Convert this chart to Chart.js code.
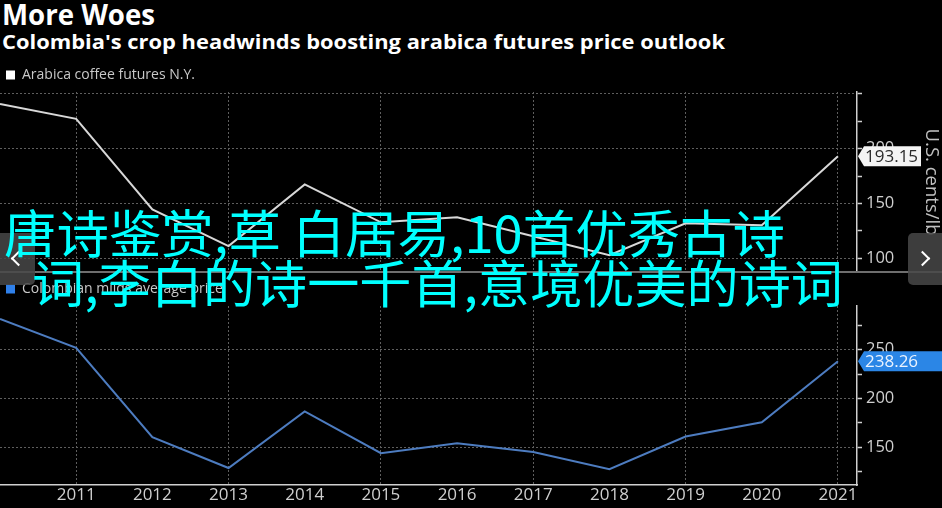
<!DOCTYPE html>
<html><head><meta charset="utf-8">
<script src="https://cdn.jsdelivr.net/npm/chart.js@4"></script>
<style>
html,body{margin:0;padding:0;background:#000;width:942px;height:508px;overflow:hidden;}
#stage{position:relative;width:942px;height:508px;background:#000;}
.txt{position:absolute;white-space:nowrap;transform-origin:0 0;color:#fff;}
#title{left:2px;top:0px;font:bold 28px "Open Sans",sans-serif;line-height:28px;}
#subtitle{left:2px;top:32px;font:bold 20px "Open Sans",sans-serif;line-height:20px;}
#topWrap{position:absolute;left:0;top:62px;width:942px;height:210px;}
#botWrap{position:absolute;left:0;top:276px;width:942px;height:232px;}
#sep{position:absolute;left:0;top:271px;width:942px;height:2px;background:#6e6e6e;}
.nav{position:absolute;top:233px;width:35px;height:52px;background:rgba(72,72,72,0.85);}
#navL{left:0;border-radius:0 5px 5px 0;}
#navR{left:908px;width:34px;border-radius:5px 0 0 5px;}
.chev{position:absolute;width:9px;height:9px;border-top:2px solid #fff;border-left:2px solid #fff;top:20px;}
#navL .chev{left:13px;transform:rotate(-45deg);}
#navR .chev{left:9px;transform:rotate(135deg);}
.cn{position:absolute;font:51px "Noto Sans CJK SC",sans-serif;color:#00ffff;white-space:nowrap;line-height:51px;transform-origin:0 0;}
#cn1{left:4px;top:206px;}
#cn2{left:32px;top:256px;}
</style>
</head>
<body>
<div id="stage">
  <div id="title" class="txt">More Woes</div>
  <div id="subtitle" class="txt">Colombia's crop headwinds boosting arabica futures price outlook</div>
  <div id="topWrap"><canvas id="topChart"></canvas></div>
  <div id="botWrap"><canvas id="botChart"></canvas></div>
  <div id="sep"></div>
  <div id="navL" class="nav"><div class="chev"></div></div>
  <div id="navR" class="nav"><div class="chev"></div></div>
  <div id="cn1" class="cn">唐诗鉴赏,草 白居易,10首优秀古诗</div>
  <div id="cn2" class="cn">词,李白的诗一千首,意境优美的诗词</div>
</div>
<script>
// ---- data ----
const years = [2010, 2011, 2012, 2013, 2014, 2015, 2016, 2017, 2018, 2019, 2020, 2021];
const arabicaFutures = [240.9, 227.3, 144.5, 111.0, 167.3, 132.7, 137.3, 120.0, 102.7, 131.8, 130.0, 193.15];
const colombianMilds = [281.6, 252.0, 160.2, 128.6, 186.7, 143.9, 154.0, 145.0, 127.5, 161.0, 175.5, 238.26];
const topTickLabels = [100, 150, 200];
const bottomTickLabels = [150, 200, 250];
const xTickLabels = [2011, 2012, 2013, 2014, 2015, 2016, 2017, 2018, 2019, 2020, 2021];
const seriesNames = ['Arabica coffee futures N.Y.', 'Colombian milds average price'];
const unitTitle = 'U.S. cents/lb';

// ---- fit html text widths ----
function fit(id, w) {
  const el = document.getElementById(id);
  el.style.transform = 'none';
  const r = el.getBoundingClientRect().width;
  el.style.transform = 'scaleX(' + (w / r) + ')';
}
fit('title', 153);
fit('subtitle', 723);
fit('cn1', 781);
fit('cn2', 811);

const GRID = '#5e5e5e';
const AXIS = '#cfcfcf';
const FONT = 'Open Sans';

const flagPlugin = {
  id: 'flag',
  afterDraw(chart, args, opts) {
    const data = chart.data.datasets[0].data;
    const last = data[data.length - 1].y;
    const ys = chart.scales.y;
    const y = ys.getPixelForValue(last);
    const x0 = ys.left + 1;
    const ctx = chart.ctx;
    ctx.save();
    ctx.fillStyle = opts.bg;
    ctx.beginPath();
    ctx.moveTo(x0, y);
    ctx.lineTo(x0 + 6, y - 10);
    ctx.lineTo(x0 + opts.w, y - 10);
    ctx.lineTo(x0 + opts.w, y + 10);
    ctx.lineTo(x0 + 6, y + 10);
    ctx.closePath();
    ctx.fill();
    ctx.fillStyle = opts.color;
    ctx.font = '17px "' + FONT + '"';
    ctx.textBaseline = 'middle';
    ctx.textAlign = 'left';
    ctx.fillText(last.toFixed(2), x0 + 7, y + 1);
    ctx.restore();
  }
};

function legendCfg(boxColor) {
  return {
    display: true, position: 'top', align: 'start',
    labels: {
      boxWidth: 9, boxHeight: 9, padding: 6, color: '#c8c8c8',
      font: { family: FONT, size: 14 },
      generateLabels: (chart) => chart.data.datasets.map((d, i) => ({
        text: d.label, fillStyle: boxColor, strokeStyle: boxColor, lineWidth: 0,
        hidden: false, datasetIndex: i, fontColor: '#c8c8c8'
      }))
    }
  };
}

function xGridColor(c) {
  return (c.tick && Number.isInteger(c.tick.value) && c.tick.value % 2 === 1) ? GRID : 'transparent';
}
function yGridColor(c) {
  return (c.tick && c.tick.value % 50 === 0) ? GRID : 'transparent';
}

function makeChart(id, label, values, lineColor, boxColor, yMin, yMax, tickLabels, showX, flagOpts, withTitle) {
  return new Chart(document.getElementById(id), {
    type: 'line',
    data: {
      datasets: [{
        label: label,
        data: years.map((yr, i) => ({ x: yr, y: values[i] })),
        borderColor: lineColor, backgroundColor: lineColor,
        borderWidth: 2, pointRadius: 0, tension: 0
      }]
    },
    options: {
      responsive: true, maintainAspectRatio: false, animation: false,
      layout: { padding: 0, autoPadding: false },
      plugins: {
        legend: legendCfg(boxColor),
        tooltip: { enabled: false },
        flag: flagOpts
      },
      scales: {
        x: {
          type: 'linear', min: 2010, max: 2021.25,
          ticks: {
            display: showX, stepSize: 1, includeBounds: false, autoSkip: false, maxRotation: 0,
            padding: 0, color: AXIS, font: { family: FONT, size: 17 },
            callback: (v) => xTickLabels.includes(v) ? String(v) : ''
          },
          grid: { drawTicks: false, color: xGridColor, lineWidth: 1 },
          border: { display: showX, color: AXIS, width: 1.5, dash: [2, 2] },
          afterFit: (s) => { s.height = showX ? 23 : 0; s.paddingLeft = 0; s.paddingRight = 0; }
        },
        y: {
          position: 'right', min: yMin, max: yMax,
          ticks: {
            stepSize: 25, includeBounds: false, padding: 4, color: AXIS,
            font: { family: FONT, size: 16.5 },
            callback: (v) => tickLabels.includes(v) ? String(v) : ''
          },
          grid: {
            drawTicks: true, tickLength: 5, tickWidth: 1.5, tickColor: AXIS,
            color: yGridColor, lineWidth: 1
          },
          border: { display: true, color: AXIS, width: 1.5, dash: [2, 2] },
          title: {
            display: withTitle, text: unitTitle, color: '#c0c0c0',
            font: { family: FONT, size: 18.5 }, padding: { top: 0, bottom: 0 }
          },
          afterFit: (s) => { s.width = 85; s.paddingTop = 0; s.paddingBottom = 0; }
        }
      }
    },
    plugins: [flagPlugin]
  });
}

makeChart('topChart', seriesNames[0], arabicaFutures, '#d8d8d8', '#ffffff',
  87.3, 251.8, topTickLabels, false, { bg: '#f4f4f4', color: '#2a2a2a', w: 63 }, true);
makeChart('botChart', seriesNames[1], colombianMilds, '#4d7cc0', '#2f80ea',
  111.2, 294.9, bottomTickLabels, true, { bg: '#2b86e6', color: '#eaf3ff', w: 84 }, false);
</script>
</body></html>
